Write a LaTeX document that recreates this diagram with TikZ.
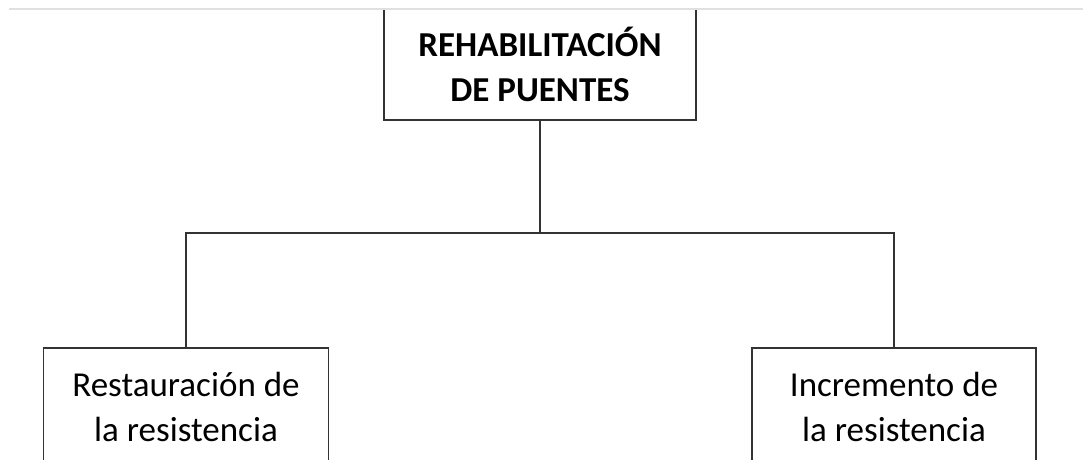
\documentclass[tikz,border=0pt]{standalone}
\usepackage{fontspec}
\setmainfont{Carlito}
\usepackage{tikz}

\begin{document}
\begin{tikzpicture}[x=1pt, y=-1pt,
  caja/.style={draw=black!80, line width=1.6pt, align=center, inner sep=0pt},
  linea/.style={draw=black!80, line width=1.6pt}]

\useasboundingbox (0,0) rectangle (1083,459);
\clip (0,0) rectangle (1083,459);

\node[caja, minimum width=312pt, minimum height=111pt,
  font=\fontsize{35}{45}\selectfont\bfseries] (rehab) at (540,64.5)
  {REHABILITACIÓN\\DE PUENTES};

\node[caja, minimum width=285pt, minimum height=117pt,
  font=\fontsize{35}{45}\selectfont] (restaura) at (186,406.5)
  {Restauración de\\la resistencia};
\node[caja, minimum width=284pt, minimum height=117pt,
  font=\fontsize{35}{45}\selectfont] (incremento) at (894,406.5)
  {Incremento de\\la resistencia};

\coordinate (split) at (540,233);
\draw[linea] (rehab.south) -- (split);
\draw[linea] (split) -| (restaura.north);
\draw[linea] (split) -| (incremento.north);

% borde de la hoja
\draw[black!12, line width=2.5pt] (9,9) -- (1083,9);

\end{tikzpicture}
\end{document}
